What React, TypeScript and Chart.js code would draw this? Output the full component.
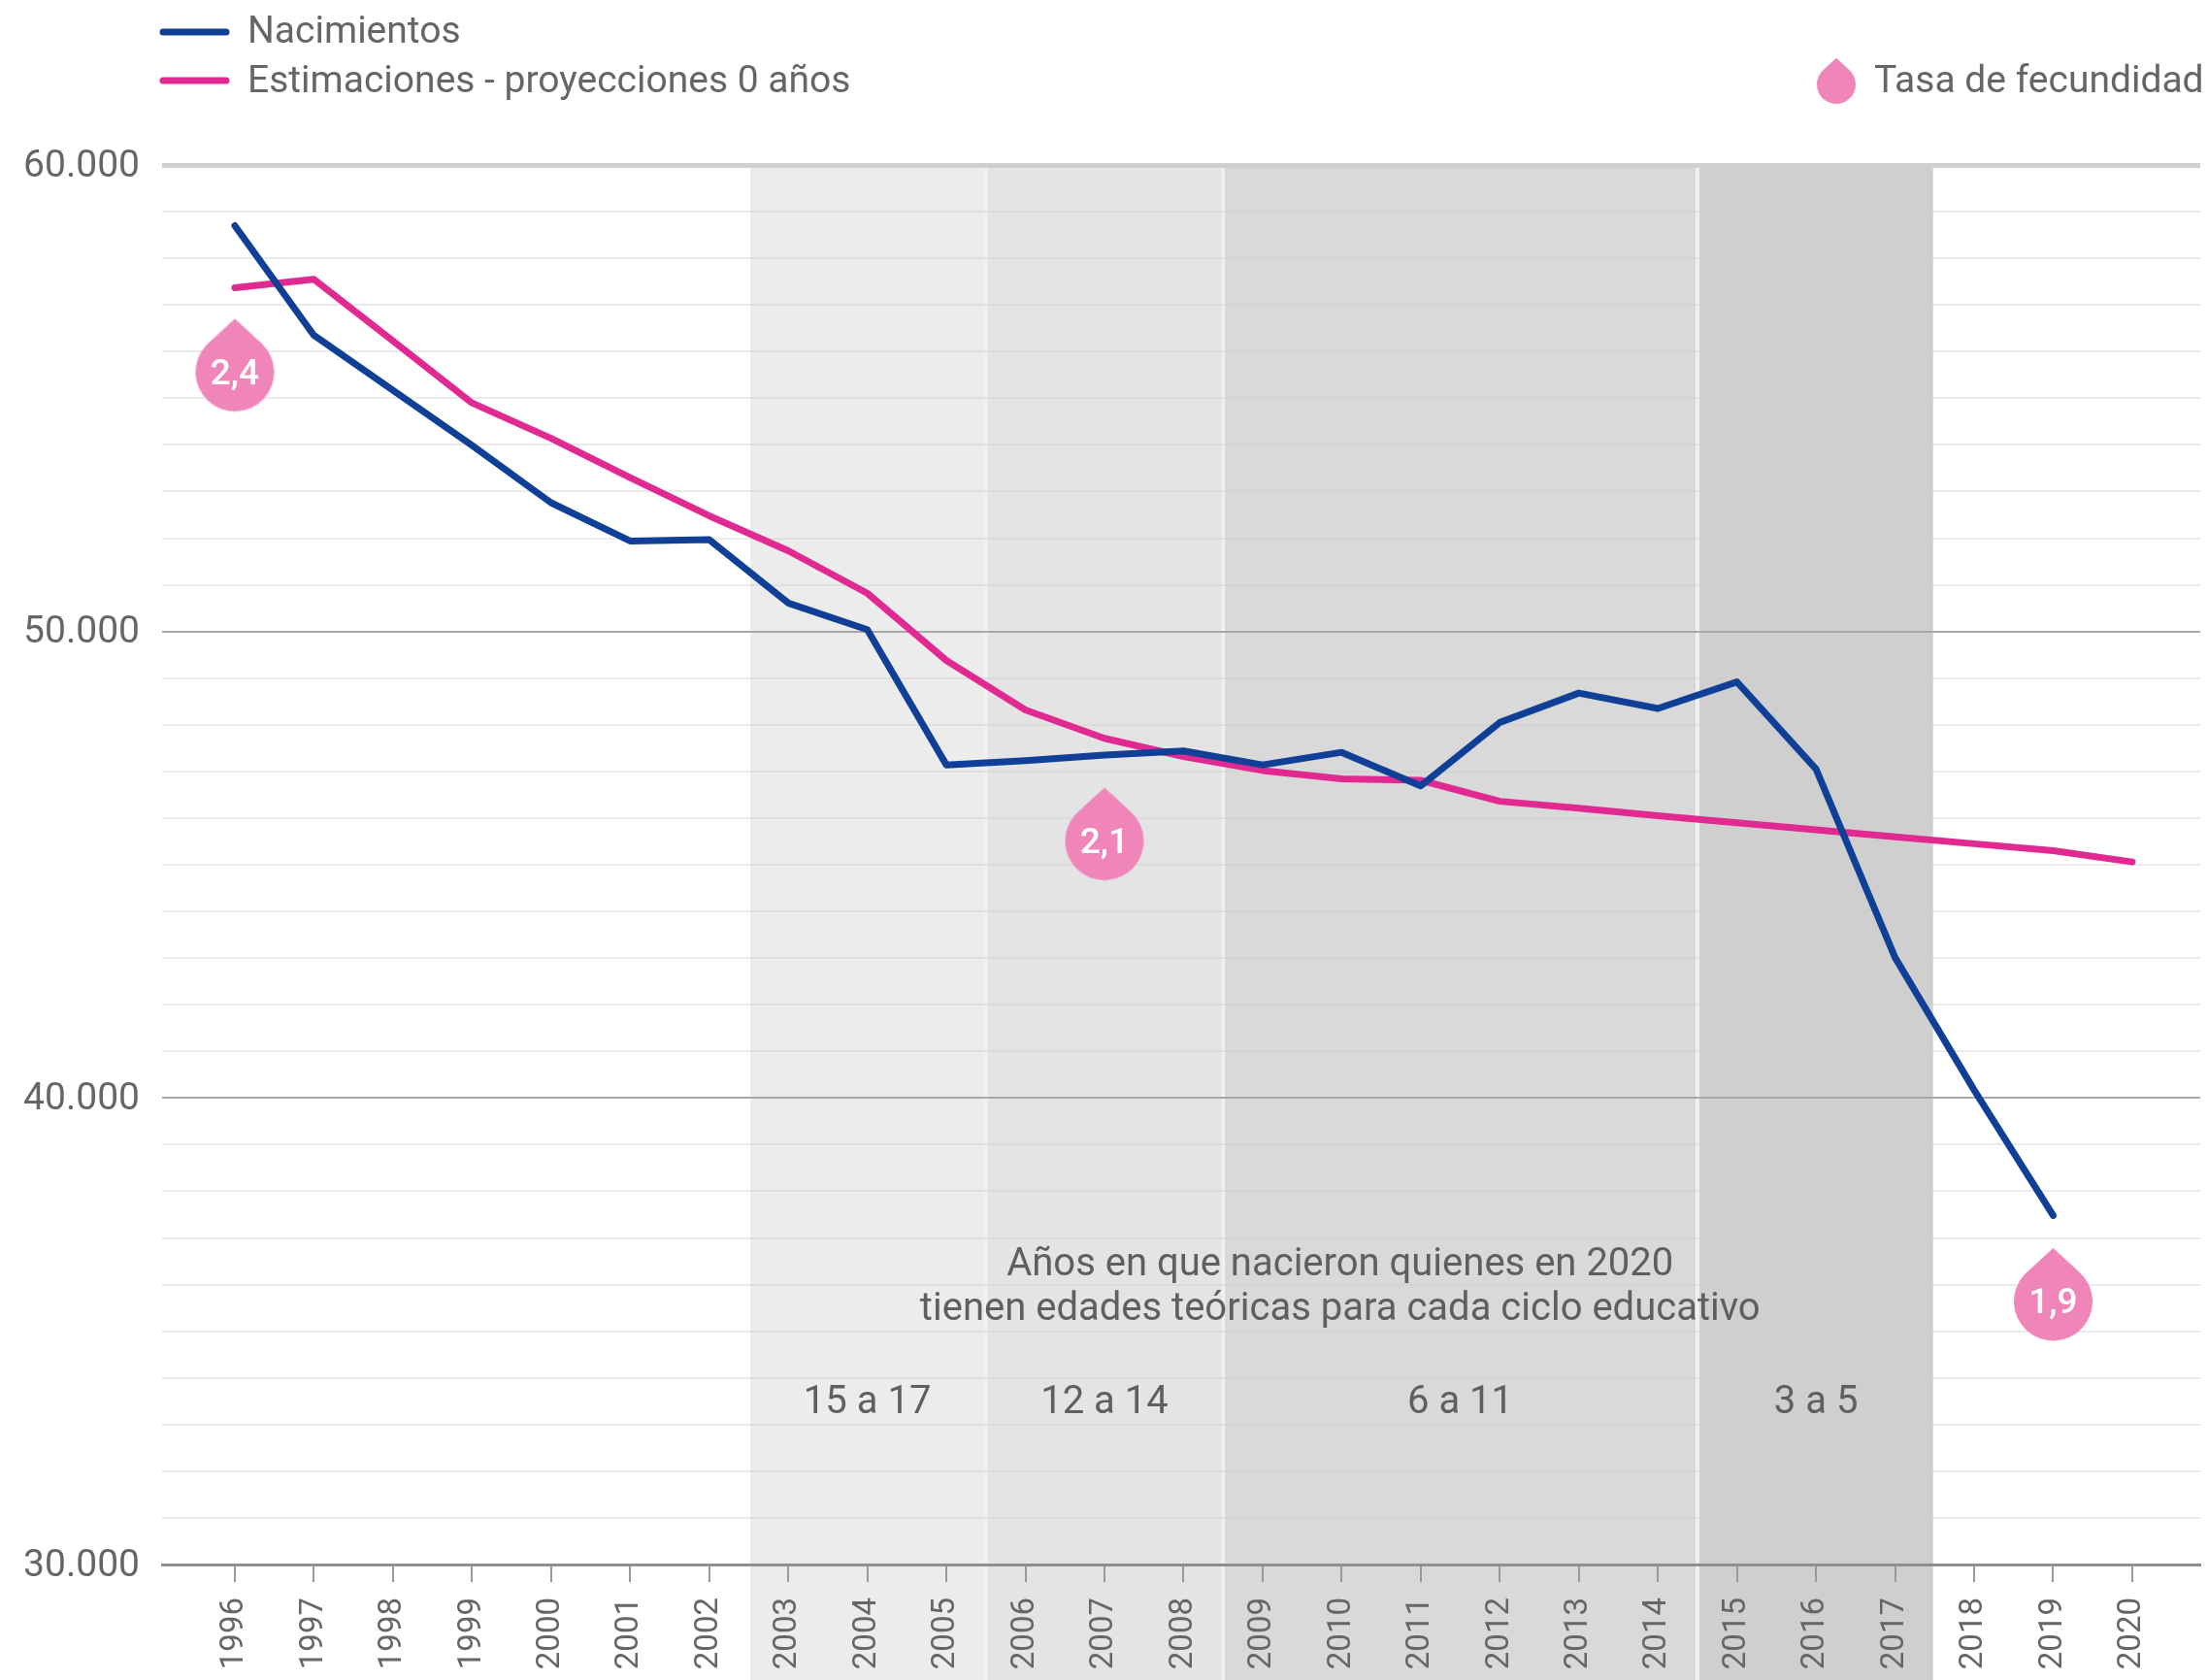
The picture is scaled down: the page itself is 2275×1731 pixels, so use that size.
import { useEffect, useRef } from "react";
import { Chart, registerables } from "chart.js";

Chart.register(...registerables);

const years = [1996,1997,1998,1999,2000,2001,2002,2003,2004,2005,2006,2007,2008,2009,2010,2011,2012,2013,2014,2015,2016,2017,2018,2019,2020];
const nacimientos = [58700,56350,55170,53990,52760,51940,51970,50610,50040,47140,47230,47350,47440,47140,47410,46690,48050,48680,48350,48920,47050,43010,40170,37480];
const estimaciones = [57370,57550,56230,54900,54140,53300,52480,51730,50820,49380,48320,47710,47320,47020,46840,46810,46360,46210,46050,45900,45750,45600,45450,45300,45060];
const dropYears = [1996,2007,2019];
const dropValues = [55560,45510,35640];
const dropLabels = ["2,4","2,1","1,9"];
const bandStarts = [2002.52,2005.5,2008.5,2014.5];
const bandEnds = [2005.5,2008.5,2014.5,2017.48];
const bandColors = ["#ececec","#e4e4e4","#d9d9d9","#cfcfcf"];
const bandLabels = ["15 a 17","12 a 14","6 a 11","3 a 5"];
const bandLabelYears = [2004,2007,2011.5,2016];
const bandLabelValue = 33450;
const noteLines = ["Años en que nacieron quienes en 2020","tienen edades teóricas para cada ciclo educativo"];
const noteValues = [36400,35460];
const noteYear = 2009.98;

const FONT = "Roboto, sans-serif";
const TEXT = "#666666";
const DROP = "#f085ba";
const BLUE = "#0f3f96";
const PINK = "#e02a92";

function dropPath(ctx: CanvasRenderingContext2D, cx: number, cy: number, r: number) {
  const t = r * 1.36;
  const theta = Math.acos(r / t);
  ctx.beginPath();
  ctx.moveTo(cx, cy - t);
  ctx.arc(cx, cy, r, -Math.PI / 2 + theta, -Math.PI / 2 - theta);
  ctx.closePath();
  ctx.fillStyle = DROP;
  ctx.fill();
}

function dropImage(r: number) {
  const c = document.createElement("canvas");
  const h = Math.ceil(r * 1.4);
  c.width = Math.ceil(2 * r + 2);
  c.height = 2 * h;
  dropPath(c.getContext("2d")!, c.width / 2, h, r);
  return c;
}

const backdrop = {
  id: "backdrop",
  beforeDraw(chart: any) {
    const { ctx, chartArea, scales } = chart;
    const x = scales.x;
    ctx.save();
    bandStarts.forEach((s, i) => {
      const a = x.getPixelForValue(s);
      const b = x.getPixelForValue(bandEnds[i]);
      ctx.fillStyle = bandColors[i];
      ctx.fillRect(a, chartArea.top, b - a, chart.height - chartArea.top);
    });
    ctx.fillStyle = "#f0f0f0";
    bandStarts.slice(1).forEach((s) => {
      ctx.fillRect(x.getPixelForValue(s) - 2, chartArea.top, 4, chart.height - chartArea.top);
    });
    ctx.restore();
  },
};

const overlay = {
  id: "overlay",
  afterDraw(chart: any) {
    const { ctx, scales } = chart;
    const x = scales.x;
    const y = scales.y;
    ctx.save();
    ctx.textBaseline = "middle";

    ctx.textAlign = "center";
    ctx.fillStyle = "#ffffff";
    ctx.font = `500 37px ${FONT}`;
    dropLabels.forEach((l, i) => {
      ctx.fillText(l, x.getPixelForValue(dropYears[i]), y.getPixelForValue(dropValues[i]) + 3);
    });

    ctx.fillStyle = "#5f5f5f";
    ctx.font = `400 40px ${FONT}`;
    noteLines.forEach((l, i) => {
      ctx.fillText(l, x.getPixelForValue(noteYear), y.getPixelForValue(noteValues[i]));
    });
    bandLabels.forEach((l, i) => {
      ctx.fillText(l, x.getPixelForValue(bandLabelYears[i]), y.getPixelForValue(bandLabelValue));
    });

    ctx.textAlign = "left";
    ctx.font = `400 39px ${FONT}`;
    ctx.lineCap = "round";
    ctx.lineWidth = 7;
    ctx.strokeStyle = BLUE;
    ctx.beginPath(); ctx.moveTo(168, 33); ctx.lineTo(233, 33); ctx.stroke();
    ctx.strokeStyle = PINK;
    ctx.beginPath(); ctx.moveTo(168, 83); ctx.lineTo(233, 83); ctx.stroke();
    dropPath(ctx, 1892, 87, 20);
    ctx.fillStyle = TEXT;
    ctx.fillText("Nacimientos", 255, 34);
    ctx.fillText("Estimaciones - proyecciones 0 años", 255, 85);
    ctx.fillText("Tasa de fecundidad", 1931, 85);
    ctx.restore();
  },
};

export default function App() {
  const ref = useRef<HTMLCanvasElement>(null);
  useEffect(() => {
    const chart = new Chart(ref.current!, {
      type: "line",
      data: {
        datasets: [
          {
            label: "Nacimientos",
            data: nacimientos.map((v, i) => ({ x: years[i], y: v })),
            borderColor: BLUE,
            borderWidth: 7,
            pointRadius: 0,
            borderCapStyle: "round",
            borderJoinStyle: "round",
            tension: 0,
          },
          {
            label: "Estimaciones - proyecciones 0 años",
            data: estimaciones.map((v, i) => ({ x: years[i], y: v })),
            borderColor: PINK,
            borderWidth: 7,
            pointRadius: 0,
            borderCapStyle: "round",
            borderJoinStyle: "round",
            tension: 0,
          },
          {
            label: "Tasa de fecundidad",
            data: dropValues.map((v, i) => ({ x: dropYears[i], y: v })),
            showLine: false,
            pointStyle: dropImage(40.5) as any,
            pointRadius: 40,
          },
        ],
      },
      options: {
        responsive: false,
        animation: false,
        layout: { autoPadding: false, padding: { top: 170, left: 0, right: 8, bottom: 0 } },
        plugins: { legend: { display: false }, tooltip: { enabled: false } },
        scales: {
          x: {
            type: "linear",
            min: 1995.08,
            max: 2020.86,
            afterBuildTicks: (axis: any) => {
              axis.ticks = years.map((value) => ({ value }));
            },
            afterFit: (axis: any) => {
              axis.height = 119;
              axis.paddingLeft = 0;
              axis.paddingRight = 0;
            },
            grid: { drawOnChartArea: false, drawTicks: true, tickLength: 18, color: "#9a9a9a", lineWidth: 2 },
            border: { display: true, color: "#8f8f8f", width: 3 },
            ticks: {
              autoSkip: false,
              minRotation: 90,
              maxRotation: 90,
              padding: 16,
              color: TEXT,
              font: { family: FONT, size: 33 },
              callback: (v: any) => String(v),
            },
          },
          y: {
            min: 30000,
            max: 60000,
            afterBuildTicks: (axis: any) => {
              const t = [];
              for (let v = 30000; v <= 60000; v += 1000) t.push({ value: v });
              axis.ticks = t;
            },
            afterFit: (axis: any) => {
              axis.width = 167;
            },
            grid: {
              drawTicks: false,
              color: (c: any) => {
                const v = c.tick.value;
                if (v === 60000) return "#cfcfcf";
                if (v === 30000) return "#8f8f8f";
                return v % 10000 === 0 ? "#a8a8a8" : "rgba(205,205,205,0.4)";
              },
              lineWidth: (c: any) => {
                const v = c.tick.value;
                if (v === 60000) return 5;
                if (v === 30000) return 3;
                return 2;
              },
            },
            border: { display: false },
            ticks: {
              autoSkip: false,
              padding: 23,
              labelOffset: 2,
              color: TEXT,
              font: { family: FONT, size: 39 },
              callback: (v: any) =>
                v % 10000 === 0 ? `${v / 1000}.000` : "",
            },
          },
        },
      },
      plugins: [backdrop, overlay],
    } as any);
    return () => chart.destroy();
  }, []);
  return (
    <canvas
      ref={ref}
      width={2275}
      height={1731}
      style={{ position: "absolute", left: 0, top: 0, display: "block" }}
    />
  );
}
